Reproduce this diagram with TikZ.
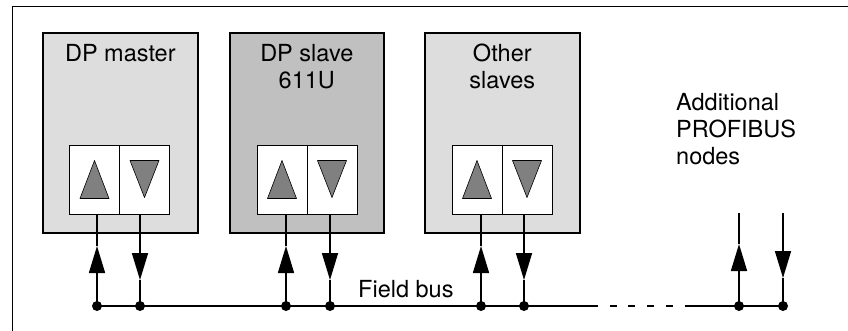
\documentclass[tikz,border=0pt]{standalone}
\usepackage{fontspec}
\setmainfont{TeX Gyre Heros}
\usetikzlibrary{arrows.meta,positioning}
\definecolor{lightbox}{HTML}{DDDDDD}
\definecolor{darkbox}{HTML}{C0C0C0}
\definecolor{trigray}{HTML}{808080}
\tikzset{
	unit/.style={draw, line width=1.6pt, minimum width=155pt, minimum height=200pt, anchor=north west, inner sep=0pt},
	cell/.style={draw, fill=white, line width=0.6pt, minimum width=50pt, minimum height=69pt, inner sep=0pt, outer sep=0pt},
	tri/.style={draw, fill=trigray, line width=0.6pt, line join=round},
	title/.style={anchor=north, align=center, inner sep=0pt},
	bus/.style={line width=1.6pt},
	flow/.style={bus, -{Triangle[width=16pt,length=27pt]}},
	tap/.style={circle, fill, inner sep=0pt, minimum size=10pt}
}
\begin{document}
\begin{tikzpicture}[x=1pt, y=-1pt, font=\fontsize{23.5}{27}\selectfont, line cap=butt]
	\useasboundingbox (0,0) rectangle (848,330);
	% Frame
	\draw[line width=0.8pt] (12,340) |- (860,6);
	% Units
	\node[unit, fill=lightbox] (master) at (42,32) {};
	\node[title] at ([yshift=-12pt]master.north) {DP master};
	\node[unit, fill=darkbox, minimum width=154pt] (slave) at (229,32) {};
	\node[title] at ([yshift=-12pt]slave.north) {DP slave\\611U};
	\node[unit, fill=lightbox] (others) at (424,32) {};
	\node[title] at ([yshift=-12pt]others.north) {Other\\slaves};
	% Ports and taps
	\foreach \u/\cx/\ta/\tb in {master/94.5/97/140, slave/282/286/330, others/477/481/524} {
		\node[cell] (\u-in) at (\cx,179.5) {};
		\node[cell, right=0pt of \u-in] (\u-out) {};
		\draw[tri] ([shift={(-14.5,19)}]\u-in.center) -- ([shift={(14.5,19)}]\u-in.center) -- ([shift={(0,-19)}]\u-in.center) -- cycle;
		\draw[tri] ([shift={(-14.5,-19)}]\u-out.center) -- ([shift={(14.5,-19)}]\u-out.center) -- ([shift={(0,18)}]\u-out.center) -- cycle;
		\coordinate (\u-a) at (\ta,306);
		\coordinate (\u-b) at (\tb,306);
		\coordinate (\u-ah) at (\ta,246);
		\coordinate (\u-bh) at (\tb,280);
		\draw[flow] (\u-a) -- (\u-ah);
		\draw[bus] (\u-ah) -- (\u-a |- \u-in.south);
		\draw[flow] (\u-b |- \u-out.south) -- (\u-bh);
		\draw[bus] (\u-bh) -- (\u-b);
	}
	% Additional nodes
	\coordinate (extra-a) at (739,306);
	\coordinate (extra-b) at (783,306);
	\coordinate (extra-atop) at (739,213);
	\coordinate (extra-btop) at (783,213);
	\coordinate (extra-ah) at (739,244);
	\coordinate (extra-bh) at (783,278);
	\draw[flow] (extra-a) -- (extra-ah);
	\draw[bus] (extra-ah) -- (extra-atop);
	\draw[flow] (extra-btop) -- (extra-bh);
	\draw[bus] (extra-bh) -- (extra-b);
	\node[anchor=north west, align=left, inner sep=0pt] (extra) at (676,93) {Additional\\PROFIBUS\\nodes};
	% Field bus
	\coordinate (gapl) at (598,306);
	\coordinate (gapr) at (685,306);
	\draw[bus] (master-a) -- (gapl);
	\draw[bus, dash pattern=on 7pt off 11.7pt, dash phase=7pt] (gapl) -- (gapr);
	\draw[bus] (gapr) -- (extra-b);
	\foreach \t in {master-a, master-b, slave-a, slave-b, others-a, others-b, extra-a, extra-b}
		\node[tap] at (\t) {};
	\node[anchor=base west, inner sep=0pt] (buslabel) at (358,297) {Field bus};
\end{tikzpicture}
\end{document}
